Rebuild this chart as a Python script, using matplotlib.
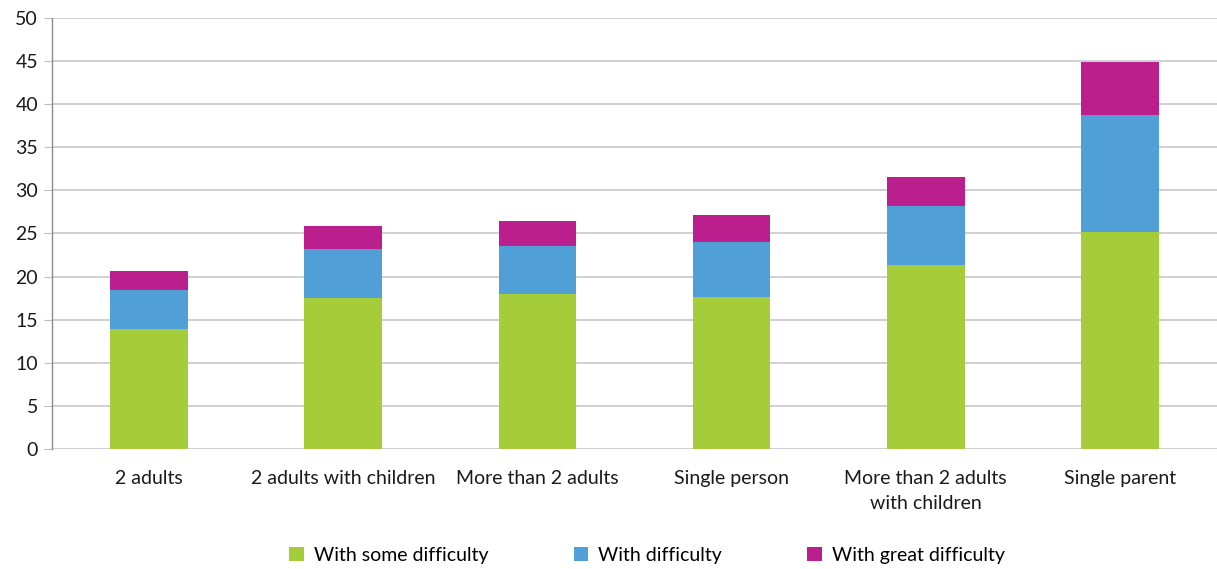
import matplotlib.pyplot as plt
import numpy as np

plt.rcParams['font.family'] = ['Lato', 'DejaVu Sans']

categories = ["2 adults", "2 adults with children", "More than 2 adults",
              "Single person", "More than 2 adults\nwith children", "Single parent"]
# cumulative tops
some_top = [13.9, 17.5, 18.0, 17.6, 21.4, 25.2]
diff_top = [18.4, 23.2, 23.5, 24.0, 28.15, 38.8]
great_top = [20.6, 25.85, 26.4, 27.2, 31.6, 44.85]

some = np.array(some_top)
diff = np.array(diff_top) - some
great = np.array(great_top) - np.array(diff_top)

series = ["With some difficulty", "With difficulty", "With great difficulty"]
colors = ["#a5cd39", "#519fd7", "#bb1f8e"]

fig = plt.figure(figsize=(12.17, 5.69), dpi=100)
ax = fig.add_axes([52 / 1217, 1 - 449 / 569, 1 - 52 / 1217, (449 - 18) / 569])

x = np.arange(len(categories))
w = 0.4
bottom = np.zeros(len(categories))
handles = []
for vals, col, name in zip([some, diff, great], colors, series):
    b = ax.bar(x, vals, w, bottom=bottom, color=col, label=name, zorder=3)
    bottom += vals
    handles.append(b)

ax.set_xlim(-0.5, len(categories) - 0.5)
ax.set_ylim(0, 50)
ax.set_yticks(range(0, 51, 5))
ax.yaxis.grid(True, color="#c8c8c8", linewidth=1.2, zorder=0)
ax.set_axisbelow(True)
for s in ["top", "right", "bottom"]:
    ax.spines[s].set_visible(False)
ax.spines["left"].set_color("#8c8c8c")
ax.spines["left"].set_linewidth(1.0)
ax.tick_params(axis="y", length=6, color="#bdbdbd", labelsize=14, pad=4, labelcolor="#1a1a1a")
ax.set_xticks(x)
ax.set_xticklabels(categories, fontsize=14, color="#1a1a1a", linespacing=1.6)
ax.tick_params(axis="x", length=0, pad=15)

fig.legend(handles=handles, labels=series, loc="center", ncol=3,
           bbox_to_anchor=(647 / 1217, 1 - 555 / 569), frameon=False,
           fontsize=14, handlelength=0.75, handleheight=0.75, handletextpad=0.5,
           columnspacing=4.4)

fig.savefig("out.png", dpi=100)
